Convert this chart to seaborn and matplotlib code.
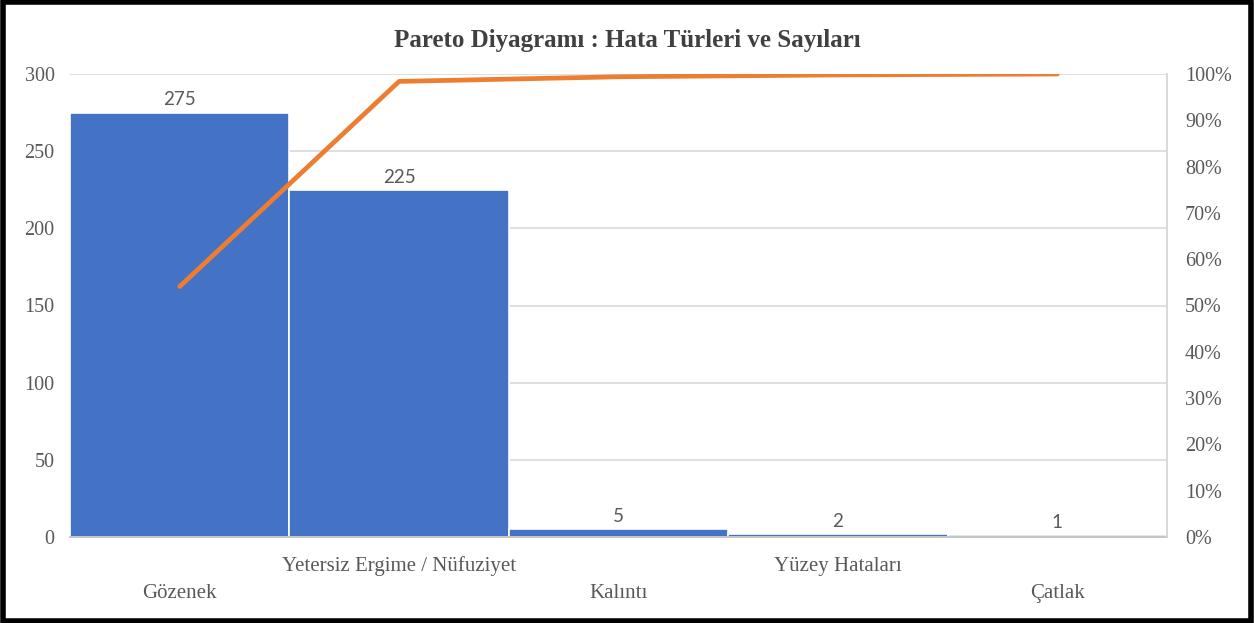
import numpy as np
import matplotlib
matplotlib.use("Agg")
import matplotlib.pyplot as plt
import matplotlib.transforms as mtransforms
from matplotlib.patches import Rectangle
from matplotlib.ticker import FuncFormatter
import seaborn as sns

categories = ["Gözenek", "Yetersiz Ergime / Nüfuziyet", "Kalıntı", "Yüzey Hataları", "Çatlak"]
counts = [275, 225, 5, 2, 1]
cum_pct = [54.1, 98.4, 99.4, 99.8, 100.0]
left_ticks = [0, 50, 100, 150, 200, 250, 300]
right_ticks = [0, 10, 20, 30, 40, 50, 60, 70, 80, 90, 100]

sns.set_theme(style="white")
plt.rcParams["font.family"] = ["Liberation Serif", "DejaVu Serif"]

BLUE = "#4472C4"
ORANGE = "#ED7D31"
TXT = "#595959"
GRID = "#D9D9D9"

fig = plt.figure(figsize=(12.54, 6.23), dpi=100)
ax = fig.add_axes([70/1254, 1-537/623, (1167-70)/1254, (537-74)/623])

sns.barplot(x=list(range(len(categories))), y=counts, color=BLUE, width=1.0,
            saturation=1, edgecolor="white", linewidth=1.2, ax=ax, zorder=2)
ax.set_xlim(-0.5, len(categories) - 0.5)
ax.set_ylim(0, 300)
ax.set_yticks(left_ticks)
ax.yaxis.grid(True, color=GRID, linewidth=1.2, zorder=0)
ax.set_axisbelow(True)
ax.tick_params(axis="y", length=0, labelsize=14.5, labelcolor=TXT, pad=11)
ax.tick_params(axis="x", length=5, color="#BFBFBF", width=1, direction="inout")
ax.set_xticks(range(len(categories)))
ax.set_xticklabels([""] * len(categories))
ax.set_xlabel("")
ax.set_ylabel("")
for s in ["top", "left"]:
    ax.spines[s].set_visible(False)
ax.spines["bottom"].set_color("#BFBFBF")
ax.spines["right"].set_color(GRID)

for c in ax.containers:
    ax.bar_label(c, labels=[str(v) for v in counts], padding=3, fontsize=13.5,
                 color=TXT, family=["Lato", "DejaVu Sans"])

trans = mtransforms.blended_transform_factory(ax.transData, ax.transAxes)
for i, lab in enumerate(categories):
    y = -0.063 if i % 2 == 1 else -0.123
    ax.text(i, y, lab, transform=trans, ha="center", va="center",
            fontsize=15, color=TXT)

ax2 = ax.twinx()
sns.lineplot(x=list(range(len(categories))), y=cum_pct, color=ORANGE,
             linewidth=3.4, ax=ax2, solid_capstyle="round")
ax2.set_ylim(0, 100)
ax2.set_yticks(right_ticks)
ax2.yaxis.set_major_formatter(FuncFormatter(lambda v, p: f"{int(v)}%"))
ax2.tick_params(axis="y", length=0, labelsize=14.5, labelcolor=TXT, pad=13)
ax2.set_ylabel("")
for s in ["top", "left", "bottom"]:
    ax2.spines[s].set_visible(False)
ax2.spines["right"].set_color(GRID)
ax2.set_xlim(-0.5, len(categories) - 0.5)

fig.text(0.5, 1-40/623, "Pareto Diyagramı : Hata Türleri ve Sayıları",
         ha="center", va="center", fontsize=18, fontweight="bold", color="#404040")

fig.patches.append(Rectangle((0.002, 0.004), 0.996, 0.992, transform=fig.transFigure,
                             fill=False, edgecolor="black", linewidth=4))

fig.savefig("out.png", dpi=100)
